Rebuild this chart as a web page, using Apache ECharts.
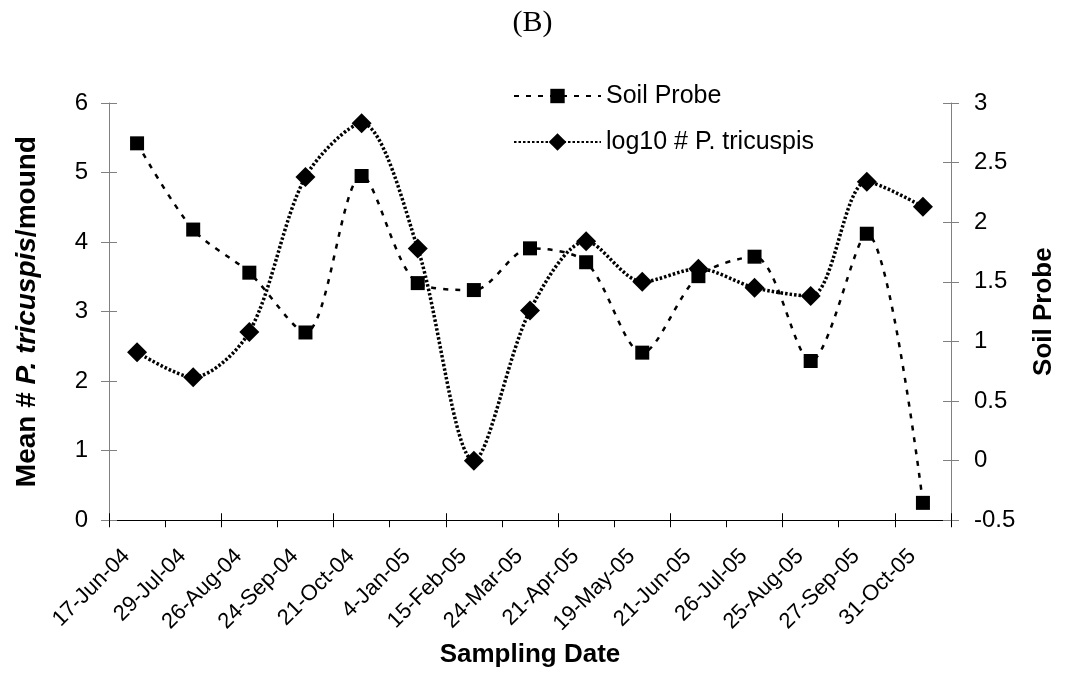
<!DOCTYPE html>
<html>
<head>
<meta charset="utf-8">
<script src="https://cdn.jsdelivr.net/npm/echarts@6/dist/echarts.min.js"></script>
<style>html,body{margin:0;padding:0;background:#fff;}#chart{width:1065px;height:673px;}</style>
</head>
<body>
<div id="chart"></div>
<script>
const categories = ['17-Jun-04','29-Jul-04','26-Aug-04','24-Sep-04','21-Oct-04','4-Jan-05','15-Feb-05','24-Mar-05','21-Apr-05','19-May-05','21-Jun-05','26-Jul-05','25-Aug-05','27-Sep-05','31-Oct-05'];
const soilProbe = [5.42, 4.18, 3.56, 2.70, 4.95, 3.41, 3.31, 3.91, 3.71, 2.41, 3.51, 3.79, 2.29, 4.12, 0.25];
const log10Tricuspis = [0.91, 0.70, 1.08, 2.38, 2.83, 1.78, 0.00, 1.26, 1.84, 1.50, 1.61, 1.45, 1.38, 2.34, 2.13];
const leftAxisRange = [0, 6, 1];
const rightAxisRange = [-0.5, 3, 0.5];

const FONT = "'Liberation Sans', Arial, sans-serif";
const SERIF = "'Liberation Serif', 'Times New Roman', serif";
const chart = echarts.init(document.getElementById('chart'));
const baseY = {
  type: 'value', splitLine: { show: false },
  axisLine: { show: true, lineStyle: { color: '#808080', width: 1 } },
  axisTick: { show: true, length: 8, lineStyle: { color: '#808080' } },
  axisLabel: { color: '#000', fontSize: 24, fontFamily: FONT, margin: 21 }
};
chart.setOption({
  animation: false,
  title: { text: '(B)', left: 'center', top: 8, padding: 0, textStyle: { fontFamily: SERIF, fontWeight: 'normal', fontSize: 30, color: '#000' } },
  legend: [
    { data: ['Soil Probe'], left: 513, top: 83, padding: 0, itemWidth: 87, itemHeight: 18, itemGap: 5,
      textStyle: { fontFamily: FONT, fontSize: 25, color: '#000', lineHeight: 26 } },
    { data: ['log10 # P. tricuspis'], left: 513, top: 129, padding: 0, itemWidth: 87, itemHeight: 22, itemGap: 5,
      textStyle: { fontFamily: FONT, fontSize: 25, color: '#000', lineHeight: 26 } }
  ],
  grid: { left: 109, right: 108, top: 103, bottom: 151 },
  xAxis: [
    { type: 'category', data: categories, position: 'bottom', boundaryGap: true,
      axisLine: { onZero: false, lineStyle: { color: '#000' } },
      axisTick: { show: true, length: 7, alignWithLabel: false, lineStyle: { color: '#000' } },
      axisLabel: { rotate: 45, interval: 0, fontSize: 22, fontFamily: FONT, color: '#000', margin: 22, padding: [0, 15, 0, 0] },
      name: 'Sampling Date', nameLocation: 'middle', nameGap: 120,
      nameTextStyle: { fontFamily: FONT, fontSize: 26, fontWeight: 'bold', color: '#000' } },
    { type: 'category', data: categories, position: 'bottom', boundaryGap: true,
      axisLine: { show: false, onZero: false }, axisLabel: { show: false },
      axisTick: { show: true, inside: true, length: 7, lineStyle: { color: '#000' } } }
  ],
  yAxis: [
    Object.assign({}, baseY, { position: 'left', min: leftAxisRange[0], max: leftAxisRange[1], interval: leftAxisRange[2],
      name: '{b|Mean # }{i|P. tricuspis}{b|/mound}', nameLocation: 'middle', nameGap: 68, nameRotate: 90,
      nameTextStyle: { color: '#000', rich: {
        b: { fontFamily: FONT, fontSize: 28, fontWeight: 'bold', color: '#000' },
        i: { fontFamily: FONT, fontSize: 28, fontWeight: 'bold', fontStyle: 'italic', color: '#000' } } } }),
    Object.assign({}, baseY, { position: 'right', min: rightAxisRange[0], max: rightAxisRange[1], interval: rightAxisRange[2],
      axisLabel: { color: '#000', fontSize: 24, fontFamily: FONT, margin: 23 },
      name: 'Soil Probe', nameLocation: 'middle', nameGap: 80, nameRotate: 90,
      nameTextStyle: { fontFamily: FONT, fontSize: 26, fontWeight: 'bold', color: '#000' } }),
    { type: 'value', position: 'left', min: leftAxisRange[0], max: leftAxisRange[1], interval: leftAxisRange[2],
      splitLine: { show: false }, axisLine: { show: false }, axisLabel: { show: false },
      axisTick: { show: true, inside: true, length: 8, lineStyle: { color: '#808080' } } },
    { type: 'value', position: 'right', min: rightAxisRange[0], max: rightAxisRange[1], interval: rightAxisRange[2],
      splitLine: { show: false }, axisLine: { show: false }, axisLabel: { show: false },
      axisTick: { show: true, inside: true, length: 8, lineStyle: { color: '#808080' } } }
  ],
  series: [
    { name: 'Soil Probe', type: 'line', xAxisIndex: 0, yAxisIndex: 0, data: soilProbe,
      smooth: 0.3, symbol: 'rect', symbolSize: 14,
      lineStyle: { color: '#000', width: 2.5, type: [5, 7] },
      itemStyle: { color: '#000' } },
    { name: 'log10 # P. tricuspis', type: 'line', xAxisIndex: 0, yAxisIndex: 1, data: log10Tricuspis,
      smooth: 0.3, symbol: 'diamond', symbolSize: 20,
      lineStyle: { color: '#000', width: 3.5, type: [2.5, 2] },
      itemStyle: { color: '#000' } }
  ]
});
</script>
</body>
</html>
